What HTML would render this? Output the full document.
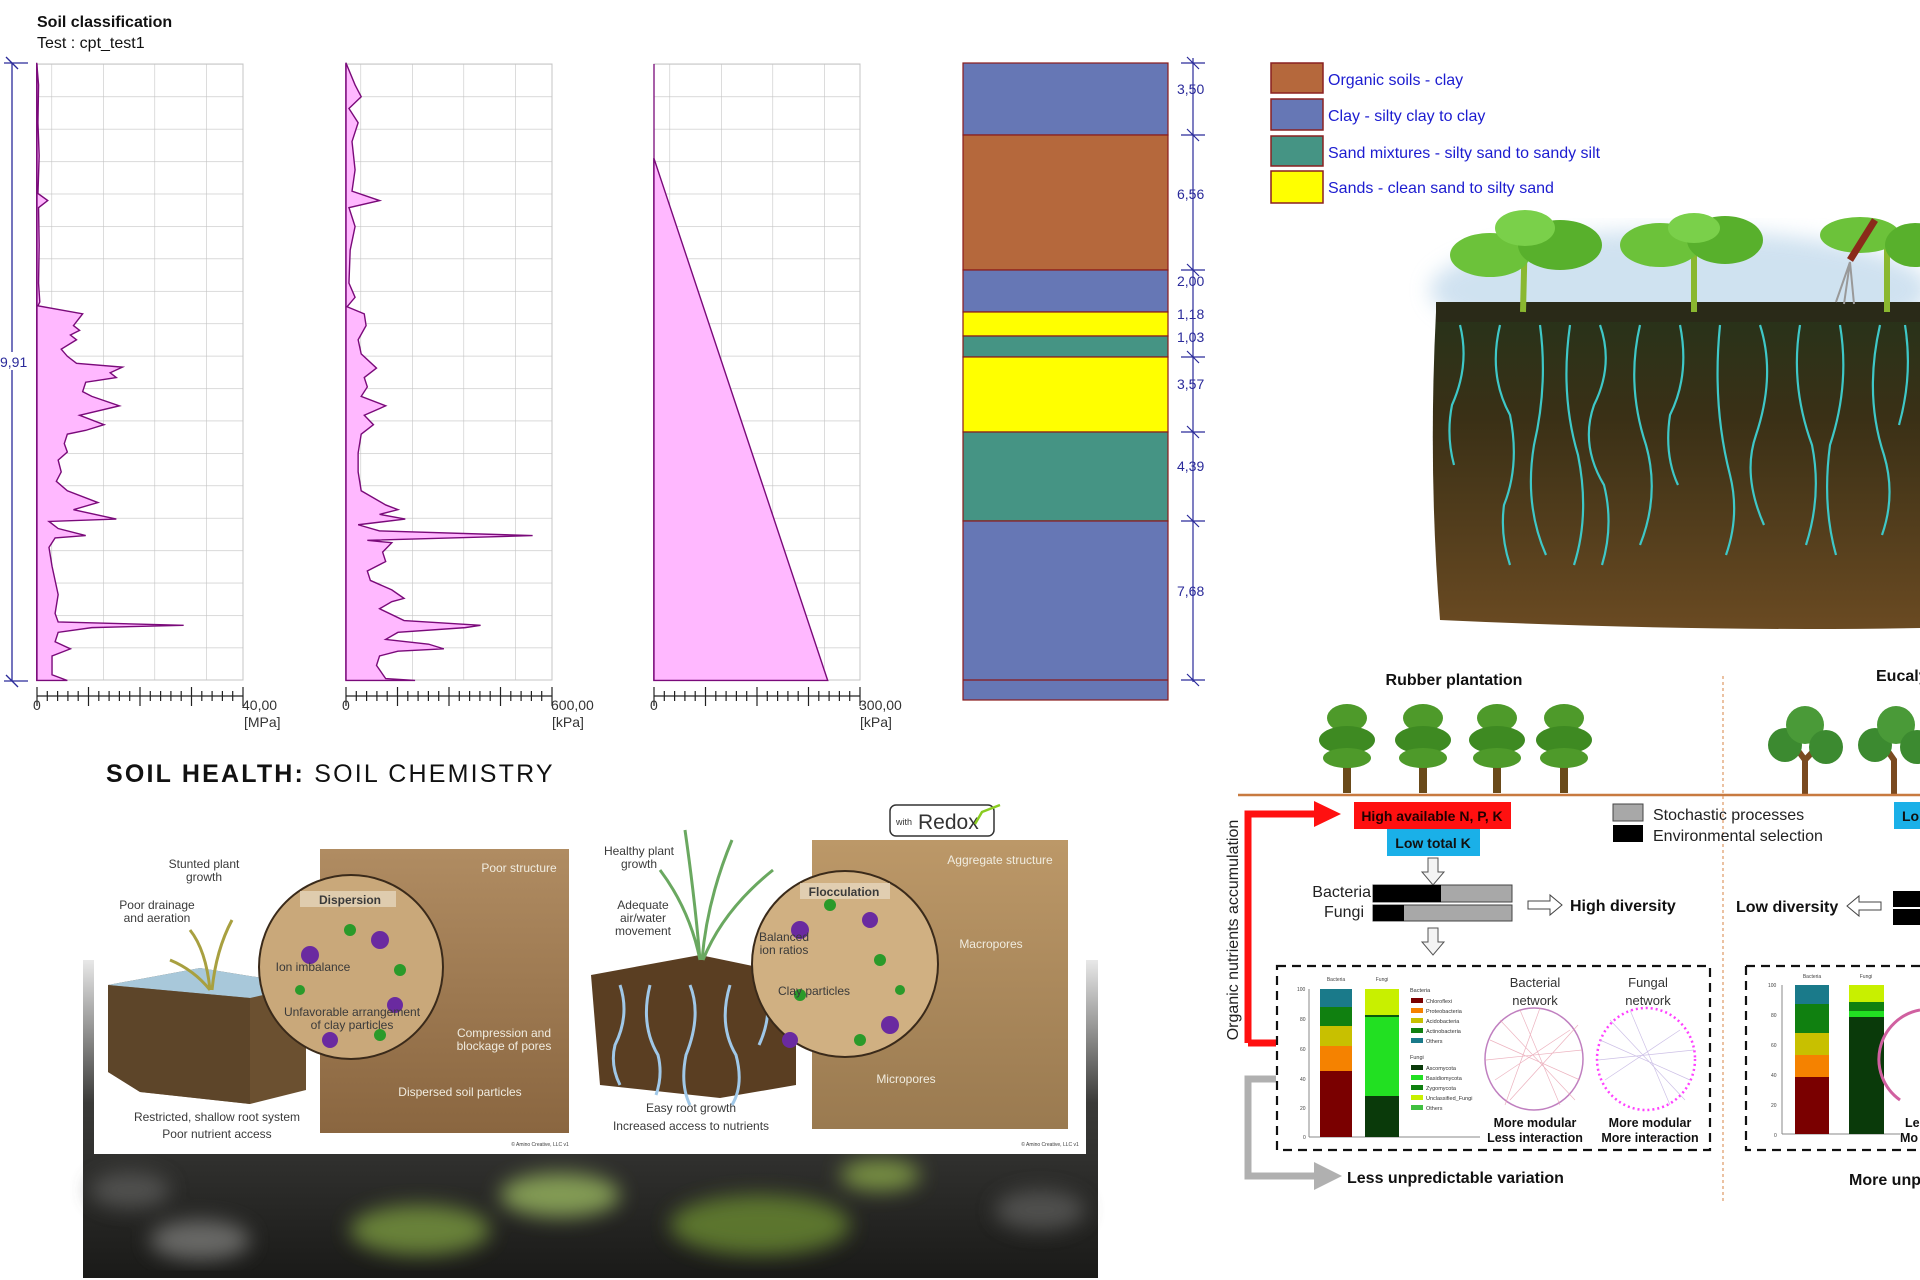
<!DOCTYPE html>
<html><head><meta charset="utf-8"><style>
html,body{margin:0;padding:0;background:#fff;width:1920px;height:1280px;overflow:hidden}
svg{display:block}
text{font-family:"Liberation Sans",sans-serif}
.n{font-family:"Liberation Sans Narrow","Liberation Sans",sans-serif}
.lg{fill:#1c1cd0;font-size:16px}
.dl{fill:#2a2a9a;font-size:14px}
.il{fill:#3a3a3a;font-size:12px;text-anchor:middle}
.iw{fill:#f0ece0;font-size:12px;text-anchor:middle}
.b{font-weight:bold}
</style></head><body>
<svg width="1920" height="1280" viewBox="0 0 1920 1280" xmlns="http://www.w3.org/2000/svg">
<defs>
<pattern id="grid" x="0" y="64" width="51.5" height="32.42" patternUnits="userSpaceOnUse">
<path d="M0 0H51.5M0 0V32.42" stroke="#c4c4c4" stroke-width="1.2" fill="none"/></pattern>
<linearGradient id="soilg" x1="0" y1="0" x2="0" y2="1">
<stop offset="0" stop-color="#26331a"/><stop offset="0.35" stop-color="#3a3016"/><stop offset="1" stop-color="#6a4a22"/></linearGradient>
<linearGradient id="photo" x1="0" y1="0" x2="0" y2="1">
<stop offset="0" stop-color="#e8e8e8"/><stop offset="0.45" stop-color="#3a3a38"/><stop offset="1" stop-color="#1a1a18"/></linearGradient>
<linearGradient id="tan" x1="0" y1="0" x2="0" y2="1">
<stop offset="0" stop-color="#b08c62"/><stop offset="1" stop-color="#8a6640"/></linearGradient>
<linearGradient id="tan2" x1="0" y1="0" x2="0" y2="1">
<stop offset="0" stop-color="#bc9868"/><stop offset="1" stop-color="#9a7a50"/></linearGradient>
<filter id="bl"><feGaussianBlur stdDeviation="10"/></filter>
<filter id="bl2"><feGaussianBlur stdDeviation="4"/></filter>
</defs>

<!-- ============ CPT charts ============ -->
<text x="37" y="27" class="n b" font-size="16" fill="#111">Soil classification</text>
<text x="37" y="48" class="n" font-size="16" fill="#111">Test : cpt_test1</text>

<g stroke="#2a2a9a" stroke-width="1.3">
<line x1="12" y1="63" x2="12" y2="681"/>
<line x1="4" y1="63" x2="28" y2="63"/><line x1="6" y1="57" x2="18" y2="69"/>
<line x1="4" y1="681" x2="28" y2="681"/><line x1="6" y1="675" x2="18" y2="687"/>
</g>
<rect x="0" y="352" width="26" height="18" fill="#fff"/>
<text x="0" y="367" class="n dl">9,91</text>

<g>
<rect x="37" y="64" width="206" height="616" fill="url(#grid)" stroke="#c4c4c4"/>
<rect x="346" y="64" width="206" height="616" fill="url(#grid)" stroke="#c4c4c4"/>
<rect x="654" y="64" width="206" height="616" fill="url(#grid)" stroke="#c4c4c4"/>
</g>
<g transform="scale(0.6122,0.4719)" fill="#ffb8ff" stroke="#7a0a7a" stroke-width="1.4">
<polygon vector-effect="non-scaling-stroke" points="60,133 63,180 62,260 64,330 62,410 78,425 63,440 64,520 63,600 65,640 62,648 135,665 120,690 130,700 115,710 125,720 100,740 110,755 125,770 200,778 180,790 190,800 140,810 135,830 150,840 195,860 130,880 170,900 140,912 110,920 105,940 110,958 95,975 100,1000 92,1020 110,1040 160,1065 120,1080 190,1100 80,1105 95,1120 140,1135 90,1140 80,1160 85,1200 95,1260 90,1300 95,1318 300,1325 150,1330 95,1340 90,1360 115,1375 85,1390 85,1430 110,1442 60,1442"/>
<polygon vector-effect="non-scaling-stroke" points="565,133 580,180 590,205 570,230 585,260 575,300 580,360 575,405 620,425 570,440 580,480 572,530 570,600 580,630 567,650 595,665 598,690 585,720 590,750 615,780 595,800 600,820 590,840 630,860 595,880 610,900 590,920 585,960 585,1000 590,1040 630,1070 650,1080 620,1090 662,1100 585,1112 620,1125 870,1135 600,1145 640,1150 625,1170 630,1190 600,1210 605,1230 640,1250 660,1268 640,1275 620,1290 660,1315 785,1325 760,1330 650,1340 630,1355 700,1365 725,1375 650,1380 620,1390 615,1410 630,1438 678,1442 565,1442"/>
<polygon vector-effect="non-scaling-stroke" points="1068,335 1352,1442 1068,1442"/>
</g>
<line x1="37" y1="64" x2="37" y2="680" stroke="#7a0a7a" stroke-width="1.3"/>
<line x1="346" y1="64" x2="346" y2="680" stroke="#7a0a7a" stroke-width="1.3"/>
<line x1="654" y1="64" x2="654" y2="680" stroke="#7a0a7a" stroke-width="1.3"/>

<g stroke="#222" stroke-width="1.2" fill="none">
<path d="M37 696H243M37 687V706M88.5 687V706M140 687V706M191.5 687V706M243 687V706M47.3 691V701M57.6 691V701M67.9 691V701M78.2 691V701M98.8 691V701M109.1 691V701M119.4 691V701M129.7 691V701M150.3 691V701M160.6 691V701M170.9 691V701M181.2 691V701M201.8 691V701M212.1 691V701M222.4 691V701M232.7 691V701"/>
<path transform="translate(309,0)" d="M37 696H243M37 687V706M88.5 687V706M140 687V706M191.5 687V706M243 687V706M47.3 691V701M57.6 691V701M67.9 691V701M78.2 691V701M98.8 691V701M109.1 691V701M119.4 691V701M129.7 691V701M150.3 691V701M160.6 691V701M170.9 691V701M181.2 691V701M201.8 691V701M212.1 691V701M222.4 691V701M232.7 691V701"/>
<path transform="translate(617,0)" d="M37 696H243M37 687V706M88.5 687V706M140 687V706M191.5 687V706M243 687V706M47.3 691V701M57.6 691V701M67.9 691V701M78.2 691V701M98.8 691V701M109.1 691V701M119.4 691V701M129.7 691V701M150.3 691V701M160.6 691V701M170.9 691V701M181.2 691V701M201.8 691V701M212.1 691V701M222.4 691V701M232.7 691V701"/>
</g>
<g class="n" font-size="14" fill="#333">
<text x="33" y="710">0</text><text x="242" y="710">40,00</text><text x="244" y="727">[MPa]</text>
<text x="342" y="710">0</text><text x="551" y="710">600,00</text><text x="552" y="727">[kPa]</text>
<text x="650" y="710">0</text><text x="859" y="710">300,00</text><text x="860" y="727">[kPa]</text>
</g>

<g stroke="#8a1a1a" stroke-width="1.2">
<rect x="963" y="63" width="205" height="72" fill="#6677b5"/>
<rect x="963" y="135" width="205" height="135" fill="#b5683c"/>
<rect x="963" y="270" width="205" height="42" fill="#6677b5"/>
<rect x="963" y="312" width="205" height="24" fill="#ffff00"/>
<rect x="963" y="336" width="205" height="21" fill="#459484"/>
<rect x="963" y="357" width="205" height="75" fill="#ffff00"/>
<rect x="963" y="432" width="205" height="89" fill="#459484"/>
<rect x="963" y="521" width="205" height="179" fill="#6677b5"/>
<line x1="963" y1="680" x2="1168" y2="680"/>
</g>
<g stroke="#2a2a9a" stroke-width="1.2">
<line x1="1193" y1="58" x2="1193" y2="682"/>
<path d="M1181 63H1205M1181 135H1205M1181 270H1205M1181 357H1205M1181 432H1205M1181 521H1205M1181 680H1205M1187 57L1199 69M1187 129L1199 141M1187 264L1199 276M1187 351L1199 363M1187 426L1199 438M1187 515L1199 527M1187 674L1199 686"/>
</g>
<g class="n dl">
<text x="1177" y="94">3,50</text><text x="1177" y="199">6,56</text><text x="1177" y="286">2,00</text>
<text x="1177" y="319">1,18</text><text x="1177" y="342">1,03</text><text x="1177" y="389">3,57</text>
<text x="1177" y="471">4,39</text><text x="1177" y="596">7,68</text>
</g>

<g stroke="#8a2020" stroke-width="1.5">
<rect x="1271" y="63" width="52" height="30" fill="#b5683c"/>
<rect x="1271" y="99" width="52" height="31" fill="#6677b5"/>
<rect x="1271" y="136" width="52" height="30" fill="#459484"/>
<rect x="1271" y="171" width="52" height="32" fill="#ffff00"/>
</g>
<g class="n lg">
<text x="1328" y="85">Organic soils - clay</text>
<text x="1328" y="121">Clay - silty clay to clay</text>
<text x="1328" y="158">Sand mixtures - silty sand to sandy silt</text>
<text x="1328" y="193">Sands - clean sand to silty sand</text>
</g>

<!-- top-right soil illustration -->
<ellipse cx="1680" cy="290" rx="250" ry="60" fill="#bcd6ea" opacity="0.7" filter="url(#bl)"/>
<path d="M1436 312 Q1600 300 1920 308 L1920 628 Q1700 632 1440 620 Q1428 470 1436 312Z" fill="url(#soilg)"/>
<rect x="1436" y="302" width="484" height="20" fill="#2a2a18"/>
<g stroke="#3ec8c8" stroke-width="2.2" fill="none">
<path d="M1460 325 q10 40 -8 80 q-6 30 2 60"/>
<path d="M1500 325 q-12 50 10 90 q10 50 -6 90 q-4 30 6 60"/>
<path d="M1540 325 q8 60 -6 120 q-10 60 12 110"/>
<path d="M1570 325 q-10 70 8 130 q12 60 -4 110"/>
<path d="M1600 325 q14 40 -6 80 q-14 40 10 80 q10 40 -2 80"/>
<path d="M1640 325 q-14 60 6 120 q14 50 -6 100"/>
<path d="M1680 325 q10 50 -10 90 q-6 40 8 70"/>
<path d="M1720 325 q-8 80 10 150 q10 40 -4 80"/>
<path d="M1760 325 q16 50 -4 110 q-14 40 8 90"/>
<path d="M1800 325 q-10 60 12 120 q10 50 -6 100"/>
<path d="M1840 325 q10 60 -10 120 q-8 60 6 110"/>
<path d="M1880 325 q-16 70 4 130 q12 40 -2 80"/>
<path d="M1905 325 q8 50 -6 100"/>
</g>
<g>
<path d="M1523 312 L1525 230" stroke="#8ab830" stroke-width="6"/>
<path d="M1694 312 L1694 225" stroke="#8ab830" stroke-width="6"/>
<path d="M1887 312 L1887 225" stroke="#8ab830" stroke-width="6"/>
<ellipse cx="1490" cy="255" rx="40" ry="22" fill="#6cc23a"/><ellipse cx="1560" cy="245" rx="42" ry="25" fill="#58b02c"/>
<ellipse cx="1525" cy="228" rx="30" ry="18" fill="#7ad04a"/>
<ellipse cx="1660" cy="245" rx="40" ry="22" fill="#6cc23a"/><ellipse cx="1725" cy="240" rx="38" ry="24" fill="#58b02c"/>
<ellipse cx="1694" cy="228" rx="26" ry="15" fill="#7ad04a"/>
<ellipse cx="1860" cy="235" rx="40" ry="18" fill="#6cc23a"/><ellipse cx="1915" cy="245" rx="30" ry="22" fill="#58b02c"/>
<path d="M1850 260 L1875 220" stroke="#8a2a1a" stroke-width="7"/>
<path d="M1850 262 l-14 40 M1850 262 l-6 42 M1850 262 l4 42" stroke="#999" stroke-width="2" fill="none"/>
</g>

<!-- bottom-left soil chemistry -->
<text x="106" y="782" font-size="25" letter-spacing="2.2" fill="#111"><tspan font-weight="bold">SOIL HEALTH:</tspan> SOIL CHEMISTRY</text>
<rect x="83" y="960" width="1015" height="318" fill="url(#photo)"/>
<g filter="url(#bl)" opacity="0.8">
<ellipse cx="420" cy="1230" rx="70" ry="25" fill="#7a9a40"/>
<ellipse cx="560" cy="1195" rx="60" ry="22" fill="#9ab860"/>
<ellipse cx="760" cy="1225" rx="90" ry="30" fill="#6a8a30"/>
<ellipse cx="880" cy="1175" rx="40" ry="16" fill="#8aa848"/>
<ellipse cx="200" cy="1240" rx="50" ry="20" fill="#7a7a78"/>
<ellipse cx="130" cy="1190" rx="40" ry="18" fill="#5a5a58"/>
<ellipse cx="1040" cy="1210" rx="45" ry="20" fill="#5a5a58"/>
</g>
<rect x="94" y="839" width="992" height="315" fill="#fff"/>

<path d="M108 985 L200 968 L306 985 L306 1090 L250 1104 L140 1092 L108 1072Z" fill="#6b5030"/>
<path d="M108 985 L200 968 L306 985 L250 998Z" fill="#a8c8da"/>
<path d="M108 985 L250 998 L250 1104 L140 1092 L108 1072Z" fill="#5a4228" opacity="0.8"/>
<path d="M210 990 q-4 -40 -20 -60 M212 990 q4 -40 20 -70 M210 990 q-16 -20 -40 -30" stroke="#a8a040" stroke-width="3" fill="none"/>
<rect x="320" y="849" width="249" height="284" fill="url(#tan)"/>
<circle cx="351" cy="967" r="92" fill="#c9a87a" stroke="#3a2a1a" stroke-width="2"/>
<g fill="#6a2aa0"><circle cx="310" cy="955" r="9"/><circle cx="380" cy="940" r="9"/><circle cx="395" cy="1005" r="8"/><circle cx="330" cy="1040" r="8"/></g>
<g fill="#2a9a2a"><circle cx="350" cy="930" r="6"/><circle cx="400" cy="970" r="6"/><circle cx="300" cy="990" r="5"/><circle cx="380" cy="1035" r="6"/></g>
<rect x="300" y="891" width="96" height="16" fill="#e8dcc4" opacity="0.7"/>
<text x="350" y="904" class="il b" fill="#222">Dispersion</text>
<text x="313" y="971" class="il">Ion imbalance</text>
<text x="352" y="1016" class="il">Unfavorable arrangement</text>
<text x="352" y="1029" class="il">of clay particles</text>
<text x="204" y="868" class="il">Stunted plant</text><text x="204" y="881" class="il">growth</text>
<text x="157" y="909" class="il">Poor drainage</text><text x="157" y="922" class="il">and aeration</text>
<text x="519" y="872" class="iw">Poor structure</text>
<text x="504" y="1037" class="iw">Compression and</text><text x="504" y="1050" class="iw">blockage of pores</text>
<text x="460" y="1096" class="iw">Dispersed soil particles</text>
<text x="217" y="1121" class="il">Restricted, shallow root system</text>
<text x="217" y="1138" class="il">Poor nutrient access</text>
<text x="540" y="1146" class="il" style="font-size:5px">© Amino Creative, LLC v1</text>

<path d="M591 975 L700 955 L796 975 L796 1085 L720 1098 L600 1085Z" fill="#5a3e22"/>
<g stroke="#a0c8e8" stroke-width="3" fill="none">
<path d="M620 985 q10 30 -5 60 q-5 20 5 40"/><path d="M650 985 q-10 40 8 70 q5 20 -2 40"/>
<path d="M690 985 q12 30 -4 70 q-6 30 4 50"/><path d="M730 985 q-12 40 6 70 q8 30 -4 50"/><path d="M765 985 q8 30 -6 60"/>
</g>
<path d="M700 960 q-5 -60 -15 -130 M702 960 q5 -60 30 -120 M700 960 q-10 -50 -40 -90 M703 960 q20 -50 70 -90" stroke="#6aa860" stroke-width="3" fill="none"/>
<rect x="812" y="840" width="256" height="289" fill="url(#tan2)"/>
<circle cx="845" cy="964" r="93" fill="#d0b082" stroke="#3a2a1a" stroke-width="2"/>
<g fill="#6a2aa0"><circle cx="800" cy="930" r="9"/><circle cx="870" cy="920" r="8"/><circle cx="890" cy="1025" r="9"/><circle cx="790" cy="1040" r="8"/></g>
<g fill="#2a9a2a"><circle cx="830" cy="905" r="6"/><circle cx="880" cy="960" r="6"/><circle cx="800" cy="995" r="6"/><circle cx="860" cy="1040" r="6"/><circle cx="900" cy="990" r="5"/></g>
<rect x="800" y="883" width="90" height="16" fill="#e8dcc4" opacity="0.7"/>
<text x="844" y="896" class="il b" fill="#222">Flocculation</text>
<text x="784" y="941" class="il">Balanced</text><text x="784" y="954" class="il">ion ratios</text>
<text x="814" y="995" class="il">Clay particles</text>
<text x="639" y="855" class="il">Healthy plant</text><text x="639" y="868" class="il">growth</text>
<text x="643" y="909" class="il">Adequate</text><text x="643" y="922" class="il">air/water</text><text x="643" y="935" class="il">movement</text>
<text x="1000" y="864" class="iw">Aggregate structure</text>
<text x="991" y="948" class="iw">Macropores</text>
<text x="906" y="1083" class="iw">Micropores</text>
<text x="691" y="1112" class="il">Easy root growth</text>
<text x="691" y="1130" class="il">Increased access to nutrients</text>
<text x="1050" y="1146" class="il" style="font-size:5px">© Amino Creative, LLC v1</text>
<rect x="890" y="805" width="104" height="31" rx="6" fill="#fff" stroke="#333" stroke-width="1.5"/>
<text x="896" y="825" font-size="9" fill="#333">with</text>
<text x="918" y="829" font-size="21" fill="#333" font-family="Liberation Serif,serif">Redox</text>
<path d="M975 824 L982 812 L1000 805" stroke="#8acc20" stroke-width="2.5" fill="none"/>

<!-- bottom-right diagram -->
<text x="1454" y="685" text-anchor="middle" class="b" font-size="16" fill="#111">Rubber plantation</text>
<text x="1876" y="681" class="b" font-size="16" fill="#111">Eucaly</text>
<g id="rt">
<rect x="1343" y="745" width="8" height="48" fill="#6a4a1a"/>
<ellipse cx="1347" cy="718" rx="20" ry="14" fill="#4e9a2a"/>
<ellipse cx="1347" cy="740" rx="28" ry="14" fill="#3e8a22"/>
<ellipse cx="1347" cy="758" rx="24" ry="10" fill="#4e9a2a"/>
</g>
<use href="#rt" x="76"/><use href="#rt" x="150"/><use href="#rt" x="217"/>
<g>
<path d="M1805 795 L1805 760 L1790 740 M1805 760 L1822 742" stroke="#7a4a20" stroke-width="6" fill="none"/>
<circle cx="1785" cy="745" r="17" fill="#3c8a30"/><circle cx="1805" cy="725" r="19" fill="#4a9a38"/><circle cx="1826" cy="747" r="17" fill="#3c8a30"/>
<path d="M1894 795 L1894 760 L1880 740" stroke="#7a4a20" stroke-width="6" fill="none"/>
<circle cx="1875" cy="745" r="17" fill="#3c8a30"/><circle cx="1896" cy="725" r="19" fill="#4a9a38"/><circle cx="1917" cy="747" r="17" fill="#3c8a30"/>
</g>
<line x1="1238" y1="795" x2="1920" y2="795" stroke="#c87a40" stroke-width="2.5"/>
<line x1="1723" y1="676" x2="1723" y2="1202" stroke="#e0a070" stroke-width="1.3" stroke-dasharray="3,3"/>

<rect x="1354" y="802" width="157" height="27" fill="#ff1010"/>
<text x="1432" y="821" text-anchor="middle" class="b" font-size="14" fill="#200">High available  N, P, K</text>
<rect x="1387" y="829" width="93" height="27" fill="#1ab0e8"/>
<text x="1433" y="848" text-anchor="middle" class="b" font-size="14" fill="#111">Low total K</text>
<rect x="1894" y="802" width="26" height="27" fill="#1ab0e8"/>
<text x="1902" y="821" class="b" font-size="14" fill="#111">Lo</text>

<path d="M1428 858h10v14h6l-11 13l-11 -13h6z" fill="#f4f4f4" stroke="#555"/>
<path d="M1428 928h10v14h6l-11 13l-11 -13h6z" fill="#f4f4f4" stroke="#555"/>
<text x="1371" y="897" text-anchor="end" font-size="16" fill="#222">Bacteria</text>
<text x="1364" y="917" text-anchor="end" font-size="16" fill="#222">Fungi</text>
<rect x="1373" y="885" width="139" height="17" fill="#a8a8a8" stroke="#444"/>
<rect x="1373" y="885" width="68" height="17" fill="#000"/>
<rect x="1373" y="905" width="139" height="16" fill="#a8a8a8" stroke="#444"/>
<rect x="1373" y="905" width="31" height="16" fill="#000"/>
<path d="M1528 901h22v-6l12 10l-12 10v-6h-22z" fill="#fff" stroke="#444"/>
<text x="1570" y="911" class="b" font-size="16" fill="#111">High diversity</text>
<text x="1736" y="912" class="b" font-size="16" fill="#111">Low diversity</text>
<path d="M1881 902h-22v-6l-12 10l12 10v-6h22z" fill="#fff" stroke="#444"/>
<rect x="1893" y="891" width="27" height="16" fill="#000"/><rect x="1893" y="909" width="27" height="16" fill="#000"/>

<rect x="1613" y="804" width="30" height="17" fill="#a8a8a8" stroke="#444"/>
<rect x="1613" y="825" width="30" height="17" fill="#000"/>
<text x="1653" y="820" font-size="16" fill="#222">Stochastic processes</text>
<text x="1653" y="841" font-size="16" fill="#222">Environmental selection</text>

<path d="M1248 1043 V814 H1318" stroke="#ff1010" stroke-width="7" fill="none"/>
<path d="M1314 801 L1341 814 L1314 827Z" fill="#ff1010"/>
<line x1="1248" y1="1043" x2="1276" y2="1043" stroke="#ff1010" stroke-width="7"/>
<path d="M1276 1079 H1248 V1176 H1318" stroke="#b0b0b0" stroke-width="7" fill="none"/>
<path d="M1314 1162 L1342 1176 L1314 1190Z" fill="#b0b0b0"/>
<text transform="translate(1238,930) rotate(-90)" text-anchor="middle" font-size="16" fill="#222">Organic nutrients accumulation</text>
<text x="1347" y="1183" class="b" font-size="16" fill="#111">Less unpredictable variation</text>
<text x="1849" y="1185" class="b" font-size="16" fill="#111">More unp</text>

<rect x="1277" y="966" width="433" height="184" fill="none" stroke="#111" stroke-width="2.2" stroke-dasharray="9,6"/>
<path d="M1746 966 V1150 H1920 M1746 966 H1920" fill="none" stroke="#111" stroke-width="2.2" stroke-dasharray="9,6"/>

<g font-size="5" fill="#444">
<text x="1336" y="981" text-anchor="middle">Bacteria</text><text x="1382" y="981" text-anchor="middle">Fungi</text>
<text x="1297" y="991">100</text><text x="1300" y="1021">80</text><text x="1300" y="1051">60</text><text x="1300" y="1081">40</text><text x="1300" y="1110">20</text><text x="1303" y="1139">0</text>
</g>
<line x1="1309" y1="989" x2="1309" y2="1137" stroke="#888"/>
<line x1="1309" y1="1137" x2="1480" y2="1137" stroke="#888"/>
<rect x="1320" y="1071" width="32" height="66" fill="#7a0000"/>
<rect x="1320" y="1046" width="32" height="25" fill="#f58200"/>
<rect x="1320" y="1026" width="32" height="20" fill="#c8c000"/>
<rect x="1320" y="1007" width="32" height="19" fill="#108010"/>
<rect x="1320" y="989" width="32" height="18" fill="#1a7a8a"/>
<rect x="1365" y="1096" width="34" height="41" fill="#0a3a0a"/>
<rect x="1365" y="1017" width="34" height="79" fill="#22e022"/>
<rect x="1365" y="1015" width="34" height="2" fill="#0a5a0a"/>
<rect x="1365" y="989" width="34" height="26" fill="#c8f000"/>
<g font-size="5.5" fill="#333">
<text x="1410" y="992">Bacteria</text>
<rect x="1411" y="998" width="12" height="5" fill="#7a0000"/><text x="1426" y="1003">Chloroflexi</text>
<rect x="1411" y="1008" width="12" height="5" fill="#f58200"/><text x="1426" y="1013">Proteobacteria</text>
<rect x="1411" y="1018" width="12" height="5" fill="#c8c000"/><text x="1426" y="1023">Acidobacteria</text>
<rect x="1411" y="1028" width="12" height="5" fill="#108010"/><text x="1426" y="1033">Actinobacteria</text>
<rect x="1411" y="1038" width="12" height="5" fill="#1a7a8a"/><text x="1426" y="1043">Others</text>
<text x="1410" y="1059">Fungi</text>
<rect x="1411" y="1065" width="12" height="5" fill="#0a3a0a"/><text x="1426" y="1070">Ascomycota</text>
<rect x="1411" y="1075" width="12" height="5" fill="#22e022"/><text x="1426" y="1080">Basidiomycota</text>
<rect x="1411" y="1085" width="12" height="5" fill="#108010"/><text x="1426" y="1090">Zygomycota</text>
<rect x="1411" y="1095" width="12" height="5" fill="#c8f000"/><text x="1426" y="1100">Unclassified_Fungi</text>
<rect x="1411" y="1105" width="12" height="5" fill="#40c040"/><text x="1426" y="1110">Others</text>
</g>
<text x="1535" y="987" text-anchor="middle" font-size="13" fill="#333">Bacterial</text>
<text x="1535" y="1005" text-anchor="middle" font-size="13" fill="#333">network</text>
<text x="1648" y="987" text-anchor="middle" font-size="13" fill="#333">Fungal</text>
<text x="1648" y="1005" text-anchor="middle" font-size="13" fill="#333">network</text>
<ellipse cx="1534" cy="1059" rx="49" ry="51" fill="#fff" stroke="#c080c0" stroke-width="1.5"/>
<g stroke="#e8a0b0" stroke-width="0.7" opacity="0.8">
<path d="M1490 1040 L1580 1080 M1500 1020 L1575 1100 M1495 1080 L1570 1030 M1520 1010 L1560 1105 M1486 1060 L1582 1050 M1510 1100 L1578 1025 M1540 1008 L1505 1105"/>
</g>
<ellipse cx="1646" cy="1059" rx="49" ry="51" fill="#fff" stroke="#ff40ff" stroke-width="2.5" stroke-dasharray="2,3"/>
<g stroke="#c0b0e0" stroke-width="0.7" opacity="0.8">
<path d="M1600 1040 L1690 1080 M1610 1020 L1685 1100 M1605 1080 L1680 1030 M1630 1010 L1670 1105 M1598 1060 L1694 1050"/>
</g>
<text x="1535" y="1127" text-anchor="middle" class="b" font-size="12.5" fill="#111">More modular</text>
<text x="1535" y="1142" text-anchor="middle" class="b" font-size="12.5" fill="#111">Less interaction</text>
<text x="1650" y="1127" text-anchor="middle" class="b" font-size="12.5" fill="#111">More modular</text>
<text x="1650" y="1142" text-anchor="middle" class="b" font-size="12.5" fill="#111">More interaction</text>

<g font-size="5" fill="#444">
<text x="1812" y="978" text-anchor="middle">Bacteria</text><text x="1866" y="978" text-anchor="middle">Fungi</text>
<text x="1768" y="987">100</text><text x="1771" y="1017">80</text><text x="1771" y="1047">60</text><text x="1771" y="1077">40</text><text x="1771" y="1107">20</text><text x="1774" y="1137">0</text>
</g>
<line x1="1782" y1="985" x2="1782" y2="1134" stroke="#888"/>
<line x1="1782" y1="1134" x2="1900" y2="1134" stroke="#888"/>
<rect x="1795" y="1077" width="34" height="57" fill="#7a0000"/>
<rect x="1795" y="1055" width="34" height="22" fill="#f58200"/>
<rect x="1795" y="1033" width="34" height="22" fill="#c8c000"/>
<rect x="1795" y="1004" width="34" height="29" fill="#108010"/>
<rect x="1795" y="985" width="34" height="19" fill="#1a7a8a"/>
<rect x="1849" y="1017" width="35" height="117" fill="#0a3a0a"/>
<rect x="1849" y="1011" width="35" height="6" fill="#22e022"/>
<rect x="1849" y="1002" width="35" height="9" fill="#108010"/>
<rect x="1849" y="985" width="35" height="17" fill="#c8f000"/>
<path d="M1920 1010 A50 50 0 0 0 1900 1100" stroke="#d060a0" stroke-width="3" fill="none"/>
<text x="1905" y="1127" class="b" font-size="12.5" fill="#111">Le</text>
<text x="1900" y="1142" class="b" font-size="12.5" fill="#111">Mo</text>
</svg>
</body></html>
